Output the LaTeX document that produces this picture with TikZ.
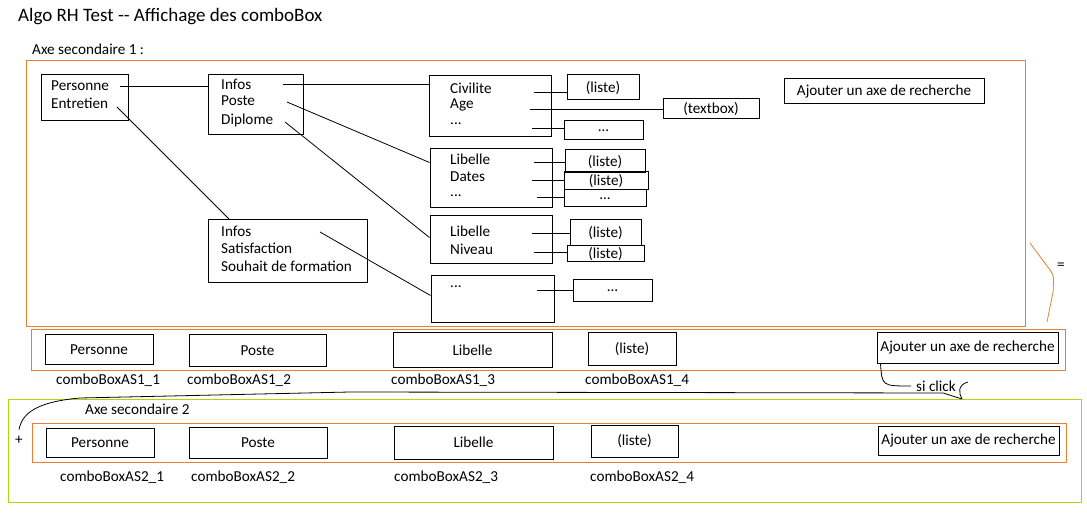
\documentclass[tikz,border=0pt]{standalone}
\usepackage{fontspec}
\setmainfont{Carlito}
\definecolor{axeorange}{RGB}{237,125,49}
\definecolor{axegreen}{RGB}{168,218,10}
\newcommand{\lab}{\fontsize{15.2}{18}\selectfont}
\newcommand{\bigtitle}{\fontsize{19}{22}\selectfont}
\tikzset{
	box/.style={draw, rectangle, line width=1pt, inner sep=0pt, anchor=north west},
	field/.style={box, font=\lab},
	entry/.style={inner sep=0pt, anchor=west, font=\lab},
	axe/.style={draw=axeorange, rectangle, line width=1pt, inner sep=0pt, anchor=north west},
	link/.style={line width=0.8pt},
}
\begin{document}
\begin{tikzpicture}[x=1pt, y=-1pt]
	\useasboundingbox (0,0) rectangle (1087,521);
	% titres
	\node (titre) [inner sep=0pt, anchor=west, font=\bigtitle] at (18,17) {Algo RH Test -{}- Affichage des comboBox};
	\node (axe1lab) [entry] at (32,49) {Axe secondaire 1 :};
	
	% axe secondaire 1 : arbre
	\node (axe1) [axe, minimum width=999pt, minimum height=266pt] at (25.5,60.5) {};
	\node (bPers) [box, minimum width=87pt, minimum height=46pt] at (40.5,74.5) {};
	\node (bInfo1) [box, minimum width=95pt, minimum height=60pt] at (207.5,74.5) {};
	\node (bInfo2) [box, minimum width=159pt, minimum height=63pt] at (207.5,219.5) {};
	\node (bCiv) [box, minimum width=122pt, minimum height=61pt] at (428.5,75.5) {};
	\node (bLib1) [box, minimum width=122pt, minimum height=59pt] at (429.5,148.5) {};
	\node (bLib2) [box, minimum width=122pt, minimum height=48pt] at (429.5,215.5) {};
	\node (bAutre) [box, minimum width=123pt, minimum height=47pt] at (430.5,275.5) {};
	
	\node (tPers) [entry] at (51,86) {Personne};
	\node (tEntr) [entry] at (51,103) {Entretien};
	\node (tInfos) [entry] at (221,84) {Infos};
	\node (tPoste) [entry] at (221,101) {Poste};
	\node (tDipl) [entry] at (221,120) {Diplome};
	\node (tInfos2) [entry] at (221,231) {Infos};
	\node (tSatis) [entry] at (221,248) {Satisfaction};
	\node (tSouh) [entry] at (221,266) {Souhait de formation};
	\node (tCiv) [entry] at (450,88) {Civilite};
	\node (tAge) [entry] at (450,105) {Age};
	\node (tCivAutre) [entry] at (450,124) {...};
	\node (tLib1) [entry] at (450,159) {Libelle};
	\node (tDates) [entry] at (450,177) {Dates};
	\node (tLibAutre) [entry] at (450,196) {...};
	\node (tLib2) [entry] at (450,231) {Libelle};
	\node (tNiv) [entry] at (450,249) {Niveau};
	\node (tAutre) [entry] at (450,287) {...};
	
	\node (fCiv) [field, minimum width=72pt, minimum height=25pt] at (566.5,74.5) {(liste)};
	\node (fAge) [field, minimum width=96pt, minimum height=20pt] at (662.5,98.5) {(textbox)};
	\node (fCivAutre) [field, minimum width=79pt, minimum height=19pt] at (563.5,120.5) {...};
	\node (fLib1) [field, minimum width=80pt, minimum height=23pt] at (564.5,149.5) {(liste)};
	\node (fDates) [field, minimum width=84pt, minimum height=18pt] at (563.5,171.5) {(liste)};
	\node (fLibAutre) [field, minimum width=82pt, minimum height=17pt] at (563.5,189.5) {...};
	\node (fLib2) [field, minimum width=71pt, minimum height=26pt] at (569.5,219.5) {(liste)};
	\node (fNiv) [field, minimum width=77pt, minimum height=16pt] at (566.5,245.5) {(liste)};
	\node (fAutre) [field, minimum width=79pt, minimum height=22pt] at (572.5,279.5) {...};
	\node (ajout1) [field, minimum width=200pt, minimum height=25pt] at (783.5,78.5) {Ajouter un axe de recherche};
	
	% liens de l'arbre
	\coordinate (sPers) at (120,86.5);
	\coordinate (sEntr) at (117,107);
	\coordinate (sInfos) at (283,84.5);
	\coordinate (sPoste) at (287,102);
	\coordinate (sDipl) at (285,122);
	\coordinate (sInfos2) at (320,232);
	\draw[link] (sPers) -- (sPers -| bInfo1.west);
	\draw[link] (sInfos) -- (sInfos -| bCiv.west);
	\draw[link] (sEntr) -- ([xshift=22pt]bInfo2.north west);
	\draw[link] (sPoste) -- ([yshift=-14pt]bLib1.north west);
	\draw[link] (sDipl) -- ([yshift=-22pt]bLib2.north west);
	\draw[link] (sInfos2) -- ([yshift=-20pt]bAutre.north west);
	
	\coordinate (sCiv) at (534,92.5);
	\coordinate (sAge) at (530,109.5);
	\coordinate (sCivAutre) at (532,128.5);
	\coordinate (sLib1) at (534,162.5);
	\coordinate (sDates) at (532,180.5);
	\coordinate (sLibAutre) at (537,197.5);
	\coordinate (sLib2) at (532,233.5);
	\coordinate (sNiv) at (534,252.5);
	\coordinate (sAutre) at (537,290.5);
	\draw[link] (sCiv) -- (sCiv -| fCiv.west);
	\draw[link] (sAge) -- (sAge -| fAge.west);
	\draw[link] (sCivAutre) -- (sCivAutre -| fCivAutre.west);
	\draw[link] (sLib1) -- (sLib1 -| fLib1.west);
	\draw[link] (sDates) -- (sDates -| fDates.west);
	\draw[link] (sLibAutre) -- (sLibAutre -| fLibAutre.west);
	\draw[link] (sLib2) -- (sLib2 -| fLib2.west);
	\draw[link] (sNiv) -- (sNiv -| fNiv.west);
	\draw[link] (sAutre) -- (sAutre -| fAutre.west);
	
	% accolade "="
	\draw[axeorange, line width=0.8pt] (1030,243) -- (1050,270) .. controls (1054,276) .. (1053,292) -- (1047,322);
	\node (egal) [entry] at (1057,266) {=};
	
	% axe secondaire 1 : comboBox
	\node (axe1cb) [axe, minimum width=1034pt, minimum height=40pt] at (30.5,329.5) {};
	\node (cb11) [field, minimum width=108pt, minimum height=29pt] at (44.5,334.5) {Personne};
	\node (cb12) [field, minimum width=137pt, minimum height=31pt] at (188.5,334.5) {Poste};
	\node (cb13) [field, minimum width=159pt, minimum height=34pt] at (392.5,332.5) {Libelle};
	\node (cb14) [field, minimum width=88pt, minimum height=32pt] at (587.5,332.5) {(liste)};
	\node (ajout2) [field, minimum width=181pt, minimum height=30pt] at (876.5,332.5) {Ajouter un axe de recherche};
	\node (n11) [entry] at (56,380) {comboBoxAS1\_1};
	\node (n12) [entry] at (187,380) {comboBoxAS1\_2};
	\node (n13) [entry] at (391,380) {comboBoxAS1\_3};
	\node (n14) [entry] at (585,380) {comboBoxAS1\_4};
	
	% axe secondaire 2
	\node (axe2) [axe, draw=axegreen, minimum width=1073pt, minimum height=103pt] at (7.5,398.5) {};
	\node (axe2lab) [entry] at (85,409) {Axe secondaire 2};
	\node (axe2cb) [axe, minimum width=1034pt, minimum height=39pt] at (31.5,422.5) {};
	\node (cb21) [field, minimum width=108pt, minimum height=29pt] at (45.5,427.5) {Personne};
	\node (cb22) [field, minimum width=138pt, minimum height=31pt] at (188.5,426.5) {Poste};
	\node (cb23) [field, minimum width=159pt, minimum height=33pt] at (393.5,425.5) {Libelle};
	\node (cb24) [field, minimum width=87pt, minimum height=32pt] at (590.5,424.5) {(liste)};
	\node (ajout3) [field, minimum width=181pt, minimum height=29pt] at (877.5,425.5) {Ajouter un axe de recherche};
	\node (n21) [entry] at (60,477) {comboBoxAS2\_1};
	\node (n22) [entry] at (191,477) {comboBoxAS2\_2};
	\node (n23) [entry] at (394,477) {comboBoxAS2\_3};
	\node (n24) [entry] at (590,477) {comboBoxAS2\_4};
	
	% si click -> +
	\node (plus) [entry] at (15,440) {+};
	\node (siclick) [entry] at (916,386) {si click};
	\coordinate (crochet) at (962,399);
	\draw[link] ([xshift=4pt]ajout2.south west) .. controls (882,386) .. ([xshift=-5pt]siclick.west);
	\draw[link] (968,382) .. controls (957,385) and (959,394) .. (crochet);
	\draw[link] (crochet) -- (943,393) -- (350,392) -- (80,398) .. controls (35,402) and (22,414) .. ([yshift=6pt]plus.north);
\end{tikzpicture}
\end{document}
